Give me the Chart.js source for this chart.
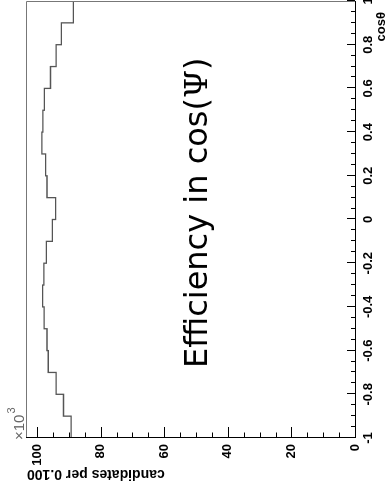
<!DOCTYPE html>
<html>
<head>
<meta charset="utf-8">
<script src="https://cdn.jsdelivr.net/npm/chart.js@4"></script>
<style>
  html, body { margin: 0; padding: 0; background: #fff; overflow: hidden; }
  /* the histogram is laid out landscape and turned a quarter turn counter-clockwise */
  #page {
    position: absolute; left: 0; top: 0; width: 499px; height: 387px; background: #fff;
    transform-origin: 0 0; transform: translateY(499px) rotate(-90deg);
  }
</style>
</head>
<body>
<div id="page"><canvas id="hist" width="499" height="387"></canvas></div>
<script>
"use strict";

// ---- data ----
// 20 bins of width 0.1 in cos(theta); counts in units of 10^3
const binLow = [-1.0, -0.9, -0.8, -0.7, -0.6, -0.5, -0.4, -0.3, -0.2, -0.1,
                 0.0, 0.1, 0.2, 0.3, 0.4, 0.5, 0.6, 0.7, 0.8, 0.9];
const binEnd = 1.0;
const counts = [89.3, 91.7, 94.0, 96.5, 96.9, 97.8, 98.3, 97.9, 97.1, 95.2,
                94.2, 96.9, 97.3, 98.5, 98.2, 97.7, 95.8, 94.0, 92.4, 88.6];

const xMajor = [-1, -0.8, -0.6, -0.4, -0.2, 0, 0.2, 0.4, 0.6, 0.8, 1];
const xTickLabels = ["-1", "-0.8", "-0.6", "-0.4", "-0.2", "0", "0.2", "0.4", "0.6", "0.8", "1"];
const yMajor = [0, 20, 40, 60, 80, 100];
const yTickLabels = ["0", "20", "40", "60", "80", "100"];

const xTitle = "cos\u03b8";
const yTitle = "candidates per 0.100";
const caption = ["Efficiency in cos(", "\u03a8", ")"];

// ---- drawing helpers ----
const tickFont = "bold 13px 'Liberation Sans', Arial, sans-serif";

// minor ticks: 4 subdivisions between majors on both axes
function tickValues(majors, sub) {
  const out = [];
  for (let i = 0; i < majors.length; i++) {
    out.push({ v: majors[i], major: true });
    if (i + 1 < majors.length) {
      const step = (majors[i + 1] - majors[i]) / sub;
      for (let k = 1; k < sub; k++) out.push({ v: majors[i] + k * step, major: false });
    }
  }
  return out;
}

// ROOT-like frame: inward ticks, grey top/right edges, bold labels
const rootFrame = {
  id: "rootFrame",
  afterDatasetsDraw(chart) {
    const { ctx, chartArea: a, scales: { x, y } } = chart;
    ctx.save();
    ctx.lineWidth = 1;

    ctx.strokeStyle = "#777";
    ctx.beginPath();
    ctx.moveTo(a.left, a.top + 0.5);
    ctx.lineTo(a.right - 0.5, a.top + 0.5);
    ctx.lineTo(a.right - 0.5, a.bottom);
    ctx.stroke();

    ctx.strokeStyle = "#000";
    ctx.beginPath();
    ctx.moveTo(a.left + 0.5, a.top);
    ctx.lineTo(a.left + 0.5, a.bottom + 0.5);
    ctx.lineTo(a.right, a.bottom + 0.5);
    ctx.stroke();

    ctx.beginPath();
    for (const t of tickValues(xMajor, 4)) {
      const px = Math.round(x.getPixelForValue(t.v)) + 0.5;
      ctx.moveTo(px, a.bottom);
      ctx.lineTo(px, a.bottom - (t.major ? 8 : 4));
    }
    for (const t of tickValues(yMajor, 4)) {
      const py = Math.round(y.getPixelForValue(t.v)) + 0.5;
      ctx.moveTo(a.left, py);
      ctx.lineTo(a.left + (t.major ? 11 : 5.5), py);
    }
    ctx.stroke();

    ctx.fillStyle = "#000";
    ctx.font = tickFont;
    ctx.textAlign = "center";
    ctx.textBaseline = "top";
    xMajor.forEach((v, i) => ctx.fillText(xTickLabels[i], x.getPixelForValue(v), a.bottom + 7));
    ctx.textAlign = "right";
    ctx.textBaseline = "middle";
    yMajor.forEach((v, i) => ctx.fillText(yTickLabels[i], a.left - 6, y.getPixelForValue(v)));

    // axis titles
    ctx.textBaseline = "alphabetic";
    ctx.fillText(xTitle, 487, 385);
    ctx.save();
    ctx.translate(25, a.top + 1);
    ctx.rotate(-Math.PI / 2);
    ctx.font = "bold 14px 'Liberation Sans', Arial, sans-serif";
    ctx.textAlign = "right";
    ctx.textBaseline = "middle";
    ctx.fillText(yTitle, 0, 0);
    ctx.restore();

    // exponent marker above the count axis
    ctx.fillStyle = "#666";
    ctx.textAlign = "left";
    ctx.font = "15px 'Liberation Sans', Arial, sans-serif";
    ctx.fillText("\u00d710", a.left - 2, 24);
    const w = ctx.measureText("\u00d710").width;
    ctx.font = "11px 'Liberation Sans', Arial, sans-serif";
    ctx.fillText("3", a.left - 2 + w + 1, 15);

    // caption inside the frame
    ctx.fillStyle = "#000";
    let cx = 131;
    caption.forEach((part, i) => {
      ctx.font = i === 1 ? "32px 'DejaVu Serif', serif" : "32px 'DejaVu Sans', sans-serif";
      ctx.fillText(part, cx, 207);
      cx += ctx.measureText(part).width;
    });
    ctx.restore();
  },
};

const points = binLow.map((lo, i) => ({ x: lo, y: counts[i] }));
points.push({ x: binEnd, y: counts[counts.length - 1] });

new Chart(document.getElementById("hist"), {
  type: "line",
  data: {
    datasets: [{
      data: points,
      stepped: "before",
      borderColor: "#555",
      borderWidth: 1.3,
      pointRadius: 0,
      fill: false,
    }],
  },
  options: {
    responsive: false,
    animation: false,
    events: [],
    layout: { padding: { left: 61, right: 1, top: 26, bottom: 32 } },
    plugins: { legend: { display: false }, tooltip: { enabled: false } },
    scales: {
      x: { type: "linear", min: -1, max: 1, display: false },
      y: { min: 0, max: 103.5, display: false },
    },
  },
  plugins: [rootFrame],
});
</script>
</body>
</html>
